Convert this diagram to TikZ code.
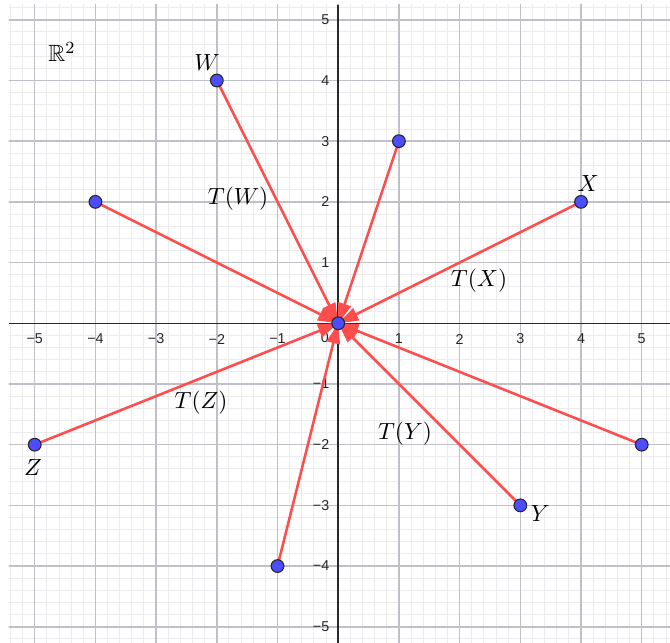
\documentclass[tikz,border=0pt]{standalone}
\usepackage{amssymb}
\usepackage{fontspec}
\newfontfamily\tickfont{Liberation Sans}
\usetikzlibrary{arrows.meta}
\definecolor{vecred}{RGB}{255,77,77}
\definecolor{ptblue}{RGB}{77,77,255}
\definecolor{majgrid}{RGB}{192,192,200}
\definecolor{mingrid}{RGB}{236,236,238}
\definecolor{axiscol}{RGB}{40,40,40}
\pgfdeclarelayer{gridlayer}
\pgfdeclarelayer{veclayer}
\pgfsetlayers{gridlayer,veclayer,main}
\begin{document}
\begin{tikzpicture}[x=1cm,y=1cm,
  pt/.style={circle,fill=ptblue,draw=black!85,line width=0.5pt,inner sep=0pt,minimum size=0.21cm},
  vec/.style={vecred,line width=1.2pt,-{Triangle[length=9.5pt,width=6.2pt]}},
  tick/.style={font=\tickfont\fontsize{6.7}{7}\selectfont,text=black!85,inner sep=0pt},
  mlabel/.style={font=\fontsize{11}{13}\selectfont,inner sep=0pt}]
\useasboundingbox (-5.572,-5.267) rectangle (5.466,5.326);
\begin{pgfonlayer}{gridlayer}
  \fill[white] (-5.572,-5.267) rectangle (5.466,5.326);
  \begin{scope}
    \clip (-5.424,-5.267) rectangle (5.466,5.244);
    \draw[mingrid,line width=0.45pt,step=0.2] (-5.6,-5.4) grid (5.6,5.4);
    \draw[majgrid,line width=0.7pt,step=1] (-5.6,-5.4) grid (5.6,5.4);
    \draw[axiscol,line width=0.7pt] (-5.424,0) -- (5.466,0);
    \draw[axiscol,line width=0.7pt] (0,-5.267) -- (0,5.244);
  \end{scope}
  \foreach \v/\t in {-5/−5,-4/−4,-3/−3,-2/−2,-1/−1,1/1,2/2,3/3,4/4,5/5}{
    \node[tick] (xt\v) at (\v,-0.26) {\t};
    \node[tick,anchor=east] (yt\v) at (-0.14,\v) {\t};
  }
  \node[tick] (zero) at (-0.22,-0.24) {0};
\end{pgfonlayer}
\node[pt] (O) at (0,0) {};
\node[pt] (W) at (-2,4) {};
\node[pt] (A) at (1,3) {};
\node[pt] (X) at (4,2) {};
\node[pt] (B) at (-4,2) {};
\node[pt] (Z) at (-5,-2) {};
\node[pt] (C) at (-1,-4) {};
\node[pt] (Y) at (3,-3) {};
\node[pt] (D) at (5,-2) {};
\begin{pgfonlayer}{veclayer}
  \foreach \p in {W,A,X,B,Z,C,Y,D}{
    \draw[vec] (\p.center) -- (O.center);
  }
\end{pgfonlayer}
\node[mlabel] (lW) at (-2.16,4.30) {$W$};
\node[mlabel] (lX) at (4.12,2.31) {$X$};
\node[mlabel] (lY) at (3.33,-3.14) {$Y$};
\node[mlabel] (lZ) at (-5.03,-2.37) {$Z$};
\node[mlabel] (lTW) at (-1.65,2.05) {$T(W)$};
\node[mlabel] (lTX) at (2.32,0.70) {$T(X)$};
\node[mlabel] (lTY) at (1.10,-1.82) {$T(Y)$};
\node[mlabel] (lTZ) at (-2.26,-1.31) {$T(Z)$};
\node[mlabel] (R2) at (-4.55,4.47) {$\mathbb{R}^2$};
\end{tikzpicture}
\end{document}
